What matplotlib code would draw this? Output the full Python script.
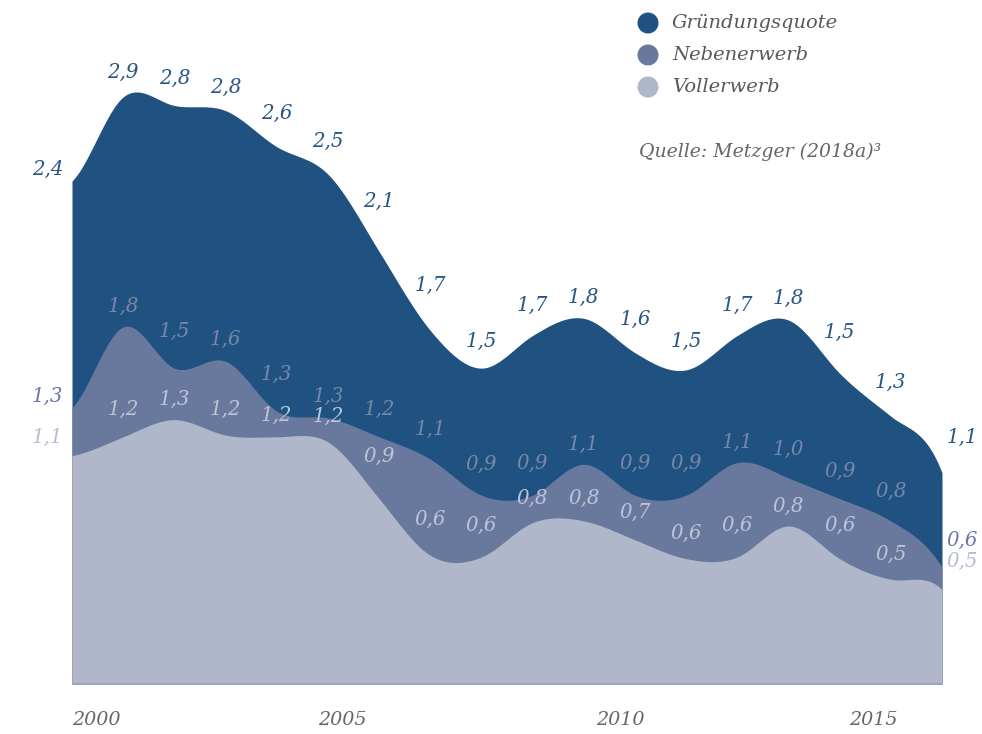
import numpy as np
import matplotlib
matplotlib.use("Agg")
import matplotlib.pyplot as plt
from matplotlib.patches import Ellipse

# ---------------- data ----------------
years = list(range(2000, 2018))
gruendungsquote = [2.4, 2.9, 2.8, 2.8, 2.6, 2.5, 2.1, 1.7, 1.5, 1.7, 1.8, 1.6, 1.5, 1.7, 1.8, 1.5, 1.3, 1.1]
nebenerwerb     = [1.3, 1.8, 1.5, 1.6, 1.3, 1.3, 1.2, 1.1, 0.9, 0.9, 1.1, 0.9, 0.9, 1.1, 1.0, 0.9, 0.8, 0.6]
vollerwerb      = [1.1, 1.2, 1.3, 1.2, 1.2, 1.2, 0.9, 0.6, 0.6, 0.8, 0.8, 0.7, 0.6, 0.6, 0.8, 0.6, 0.5, 0.5]
series_names = ["Gründungsquote", "Nebenerwerb", "Vollerwerb"]
tick_labels = ["2000", "2005", "2010", "2015"]
tick_pos = [2000.47, 2005.28, 2010.72, 2015.65]
source = "Quelle: Metzger (2018a)³"

# ---------------- style ----------------
W, H = 982, 734
PX_PER_UNIT = 206.0
PX_PER_YEAR = 870 / 17
area_colors = ["#1f5280", "#69799d", "#b1b7cb"]
label_in_colors = ["#285684", "#7886ab", "#bec4d9"]
label_out_colors = ["#285684", "#6a77a8", "#b7bcd6"]
FONT = dict(family="DejaVu Serif", style="italic")
VAL_FS = 14.2

fig = plt.figure(figsize=(W / 100, H / 100), dpi=100)
ax = fig.add_axes([72 / W, 50 / H, 870 / W, 684 / H])
ax.set_xlim(years[0], years[-1])
ax.set_ylim(0, 684 / PX_PER_UNIT)
ax.axis("off")


def smooth(x, y, y_left, y_right, n=40):
    yy = np.concatenate([[y_left], y, [y_right]])
    xs_all, ys_all = [], []
    for i in range(len(y) - 1):
        p0, p1, p2, p3 = yy[i], yy[i + 1], yy[i + 2], yy[i + 3]
        t = np.linspace(0, 1, n, endpoint=(i == len(y) - 2))
        cr = 0.5 * (2 * p1 + (-p0 + p2) * t + (2 * p0 - 5 * p1 + 4 * p2 - p3) * t ** 2
                    + (-p0 + 3 * p1 - 3 * p2 + p3) * t ** 3)
        bs = ((1 - t) ** 3 * p0 + (3 * t ** 3 - 6 * t ** 2 + 4) * p1
              + (-3 * t ** 3 + 3 * t ** 2 + 3 * t + 1) * p2 + t ** 3 * p3) / 6
        xs_all.append(x[i] + t * (x[i + 1] - x[i]))
        ys_all.append(0.5 * (cr + bs))
    return np.concatenate(xs_all), np.concatenate(ys_all)


x = np.array(years, dtype=float)
curves = []
for vals, col in zip([gruendungsquote, nebenerwerb, vollerwerb], area_colors):
    v = np.array(vals, dtype=float)
    xs, ys = smooth(x, v, v[0], 0.0)
    ax.fill_between(xs, 0, ys, color=col, lw=0, zorder=2)
    curves.append((xs, ys))

ax.plot([years[0], years[-1]], [0, 0], color="#97a2c0", lw=1.3, zorder=3, solid_capstyle="butt")

# ---------------- value labels ----------------
hw = 18 / PX_PER_YEAR
gap = 20 / PX_PER_UNIT
for s, vals in enumerate([gruendungsquote, nebenerwerb, vollerwerb]):
    xs, ys = curves[s]
    n = len(vals)
    for i, v in enumerate(vals):
        txt = f"{v:.1f}".replace(".", ",")
        if i == 0 or i == n - 1:
            dx = -24.5 / PX_PER_YEAR if i == 0 else 20 / PX_PER_YEAR
            ax.text(years[i] + dx, v + gap, txt, ha="center", va="center",
                    fontsize=VAL_FS, color=label_out_colors[s], clip_on=False, zorder=5, **FONT)
        else:
            m = np.abs(xs - years[i]) <= hw
            ytop = ys[m].max()
            ax.text(years[i], ytop + gap, txt, ha="center", va="center",
                    fontsize=VAL_FS, color=label_in_colors[s], zorder=5, **FONT)

# ---------------- x tick labels ----------------
for p, t in zip(tick_pos, tick_labels):
    ax.text(p, -36 / PX_PER_UNIT, t, ha="center", va="center", fontsize=13.8,
            color="#666666", clip_on=False, **FONT)

# ---------------- legend ----------------
leg_y = [23, 55, 87]
for name, col, yy in zip(series_names, area_colors, leg_y):
    fig.add_artist(Ellipse((648 / W, 1 - yy / H), 21 / W, 21 / H,
                           transform=fig.transFigure, color=col, lw=0))
    fig.text(672 / W, 1 - yy / H, name, ha="left", va="center", fontsize=14,
             color="#595959", **FONT)

fig.text(639 / W, 1 - 152 / H, source, ha="left", va="center", fontsize=13.6,
         color="#666666", **FONT)

fig.savefig("out.png", dpi=100)
